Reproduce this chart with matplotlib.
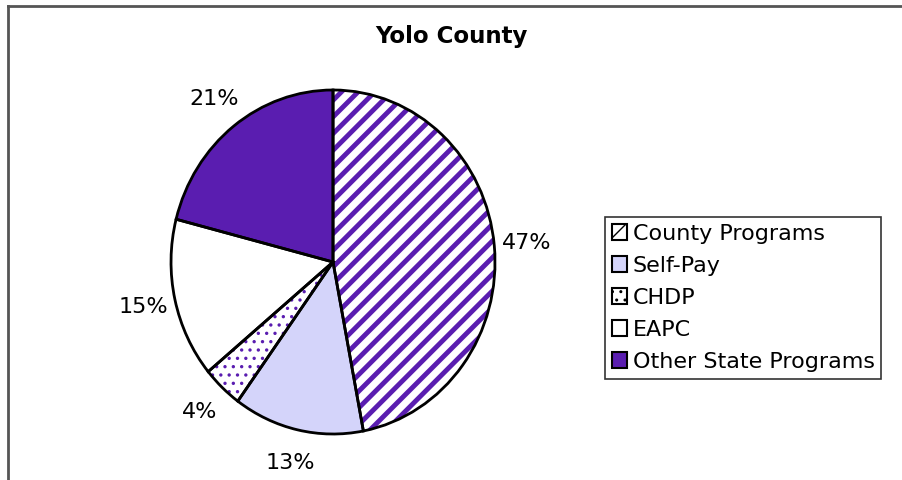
import matplotlib.pyplot as plt
from matplotlib.patches import Patch
from matplotlib.lines import Line2D

labels = ['County Programs', 'Self-Pay', 'CHDP', 'EAPC', 'Other State Programs']
values = [47, 13, 4, 15, 21]

purple = '#5A1DB0'
lavender = '#D4D4FA'

facecols = ['white', lavender, 'white', 'white', purple]
hatches = ['//', None, '..', None, None]
hatch_lw = [3.5, 1, 1.2, 1, 1]

plt.rcParams['hatch.color'] = purple

fig = plt.figure(figsize=(9.02, 4.8), dpi=100)

# pie slightly taller than wide, like the original
ax = fig.add_axes([0.1896, 0.0958, 0.3592, 0.7167])
wedges, texts, autotexts = ax.pie(values, startangle=90, counterclock=False,
                                  colors=facecols, autopct='%d%%', pctdistance=1.2,
                                  wedgeprops=dict(linewidth=0))
for w, h, lw in zip(wedges, hatches, hatch_lw):
    if h:
        w.set_hatch(h)
        w.set_edgecolor(purple)
        w.set_hatch_linewidth(lw)
for t in autotexts:
    t.set_fontsize(16)
# black outlines on top
outl, _ = ax.pie(values, startangle=90, counterclock=False,
                 wedgeprops=dict(fill=False, edgecolor='black', linewidth=2))
ax.set_xlim(-1.0, 1.0)
ax.set_ylim(-1.0, 1.0)
ax.set_aspect('auto')
ax.axis('off')

handles = []
for fc, h in zip(facecols, hatches):
    p = Patch(facecolor=fc, edgecolor='black', hatch=h, linewidth=1.5)
    p.set_hatch_linewidth(1.2)
    handles.append(p)
leg = fig.legend(handles, labels, loc='center left', bbox_to_anchor=(605 / 902, 182 / 480),
                 fontsize=16, frameon=True, fancybox=False, edgecolor='black',
                 handlelength=0.7, handleheight=0.7, handletextpad=0.25,
                 labelspacing=0.54, borderpad=0.3, borderaxespad=0)
leg.get_frame().set_linewidth(1.2)

fig.text(0.5, 1 - 37 / 480, 'Yolo County', ha='center', va='center',
         fontsize=16.5, fontweight='bold')

# outer frame (only top and left visible)
fig.add_artist(Line2D([8 / 902, 8 / 902], [0, 1 - 6 / 480], color='#555555', lw=2,
                      transform=fig.transFigure))
fig.add_artist(Line2D([8 / 902, 1], [1 - 6 / 480, 1 - 6 / 480], color='#555555', lw=2,
                      transform=fig.transFigure))

plt.savefig('out.png', dpi=100)
